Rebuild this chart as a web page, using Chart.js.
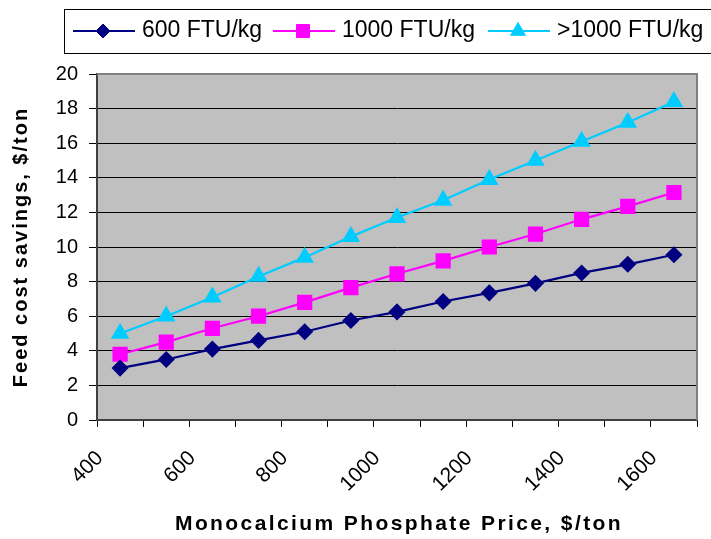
<!DOCTYPE html>
<html>
<head>
<meta charset="utf-8">
<script src="https://cdn.jsdelivr.net/npm/chart.js@4"></script>
<style>
  html, body { margin: 0; padding: 0; background: #fff; }
  #wrap { width: 711px; height: 539px; }
</style>
</head>
<body>
<div id="wrap"><canvas id="chart" width="711" height="539"></canvas></div>
<script>
// Monocalcium phosphate price ($/ton), one point per 100 $ bin
const prices = [450, 550, 650, 750, 850, 950, 1050, 1150, 1250, 1350, 1450, 1550, 1650];

// Feed cost savings, $/ton
const ftu600 = [3.0, 3.5, 4.1, 4.6, 5.1, 5.75, 6.25, 6.85, 7.35, 7.9, 8.5, 9.0, 9.55];
const ftu1000 = [3.8, 4.5, 5.3, 6.0, 6.8, 7.65, 8.45, 9.2, 10.0, 10.75, 11.6, 12.35, 13.15];
const ftuOver1000 = [5.0, 6.0, 7.1, 8.3, 9.4, 10.6, 11.7, 12.7, 13.9, 15.0, 16.1, 17.2, 18.4];

const seriesLabels = ['600 FTU/kg', '1000 FTU/kg', '>1000 FTU/kg'];
const xTickLabels = [400, 600, 800, 1000, 1200, 1400, 1600];
const yTicks = [0, 2, 4, 6, 8, 10, 12, 14, 16, 18, 20];

const FONT = 'Liberation Sans, Arial, sans-serif';

function toPoints(values) {
  return values.map((v, i) => ({ x: prices[i], y: v }));
}

// grey plot background + grey top/right frame
const plotBackground = {
  id: 'plotBackground',
  beforeDraw(chart) {
    const { ctx, chartArea: a } = chart;
    ctx.save();
    ctx.fillStyle = '#c0c0c0';
    ctx.fillRect(a.left, a.top, a.right - a.left, a.bottom - a.top);
    ctx.restore();
  },
  afterDraw(chart) {
    const { ctx, chartArea: a } = chart;
    ctx.save();
    ctx.strokeStyle = '#808080';
    ctx.lineWidth = 2;
    ctx.beginPath();
    ctx.moveTo(a.left, a.top);
    ctx.lineTo(a.right, a.top);
    ctx.lineTo(a.right, a.bottom);
    ctx.stroke();
    ctx.restore();
  }
};

// boxed legend at the top, line through the marker like the original
const boxLegend = {
  id: 'boxLegend',
  afterDraw(chart) {
    const ctx = chart.ctx;
    ctx.save();
    ctx.strokeStyle = '#000';
    ctx.lineWidth = 1;
    ctx.strokeRect(64.5, 9.5, 660, 44);
    const starts = [73, 273, 488];
    const y = 31;
    chart.data.datasets.forEach((ds, i) => {
      const x0 = starts[i];
      ctx.strokeStyle = ds.borderColor;
      ctx.lineWidth = 2;
      ctx.beginPath();
      ctx.moveTo(x0, y);
      ctx.lineTo(x0 + 62, y);
      ctx.stroke();
      ctx.fillStyle = ds.pointBackgroundColor;
      ctx.strokeStyle = ds.pointBorderColor;
      ctx.lineWidth = 1;
      Chart.helpers.drawPoint(ctx, {
        pointStyle: ds.pointStyle,
        radius: ds.pointRadius,
        borderWidth: 1
      }, x0 + 30, y);
      ctx.fillStyle = '#000';
      ctx.font = '23px ' + FONT;
      ctx.textBaseline = 'alphabetic';
      ctx.fillText(ds.label, x0 + 69, 37);
    });
    ctx.restore();
  }
};

// axis titles, letter-spaced
const axisTitles = {
  id: 'axisTitles',
  afterDraw(chart) {
    const { ctx, chartArea: a } = chart;
    ctx.save();
    ctx.fillStyle = '#000';
    ctx.textAlign = 'center';
    ctx.textBaseline = 'middle';
    ctx.letterSpacing = '2.4px';
    ctx.font = 'bold 21px ' + FONT;
    ctx.fillText('Monocalcium Phosphate Price, $/ton', 399, 524);
    ctx.letterSpacing = '2px';
    ctx.font = 'bold 20px ' + FONT;
    ctx.translate(21, (a.top + a.bottom) / 2);
    ctx.rotate(-Math.PI / 2);
    ctx.fillText('Feed cost savings, $/ton', 0, 0);
    ctx.restore();
  }
};

const ctx = document.getElementById('chart').getContext('2d');
new Chart(ctx, {
  type: 'line',
  data: {
    datasets: [
      {
        label: seriesLabels[0],
        data: toPoints(ftu600),
        borderColor: '#000080',
        backgroundColor: '#000080',
        pointBackgroundColor: '#000080',
        pointBorderColor: '#000080',
        pointStyle: 'rectRot',
        pointRadius: 7,
        borderWidth: 2.2
      },
      {
        label: seriesLabels[1],
        data: toPoints(ftu1000),
        borderColor: '#ff00ff',
        backgroundColor: '#ff00ff',
        pointBackgroundColor: '#ff00ff',
        pointBorderColor: '#ff00ff',
        pointStyle: 'rect',
        pointRadius: 9.2,
        borderWidth: 2.2
      },
      {
        label: seriesLabels[2],
        data: toPoints(ftuOver1000),
        borderColor: '#00ccff',
        backgroundColor: '#00ccff',
        pointBackgroundColor: '#00ccff',
        pointBorderColor: '#00ccff',
        pointStyle: 'triangle',
        pointRadius: 8.5,
        borderWidth: 2.2
      }
    ]
  },
  options: {
    responsive: false,
    animation: false,
    layout: { padding: { top: 74, right: 14, left: 0, bottom: 0 } },
    plugins: {
      legend: { display: false },
      tooltip: { enabled: false }
    },
    scales: {
      x: {
        type: 'linear',
        min: 400,
        max: 1700,
        afterBuildTicks(scale) {
          const t = [];
          for (let v = 400; v <= 1700; v += 100) t.push({ value: v });
          scale.ticks = t;
        },
        afterFit(scale) {
          scale.height = 119;
          scale.paddingLeft = 0;
          scale.paddingRight = 0;
        },
        ticks: {
          autoSkip: false,
          minRotation: 45,
          maxRotation: 45,
          padding: 19,
          labelOffset: 3,
          color: '#000',
          font: { family: FONT, size: 21 },
          callback: (v) => xTickLabels.includes(v) ? String(v) : ''
        },
        grid: {
          drawOnChartArea: false,
          drawTicks: true,
          tickLength: 7,
          color: '#000',
          lineWidth: 1
        },
        border: { color: '#404040', width: 2 }
      },
      y: {
        min: 0,
        max: 20,
        afterBuildTicks(scale) {
          scale.ticks = yTicks.map((v) => ({ value: v }));
        },
        afterFit(scale) { scale.width = 97; },
        ticks: {
          padding: 11,
          color: '#000',
          font: { family: FONT, size: 20 }
        },
        grid: {
          color: '#000',
          lineWidth: 1,
          tickLength: 8
        },
        border: { color: '#404040', width: 2 }
      }
    }
  },
  plugins: [plotBackground, boxLegend, axisTitles]
});
</script>
</body>
</html>
